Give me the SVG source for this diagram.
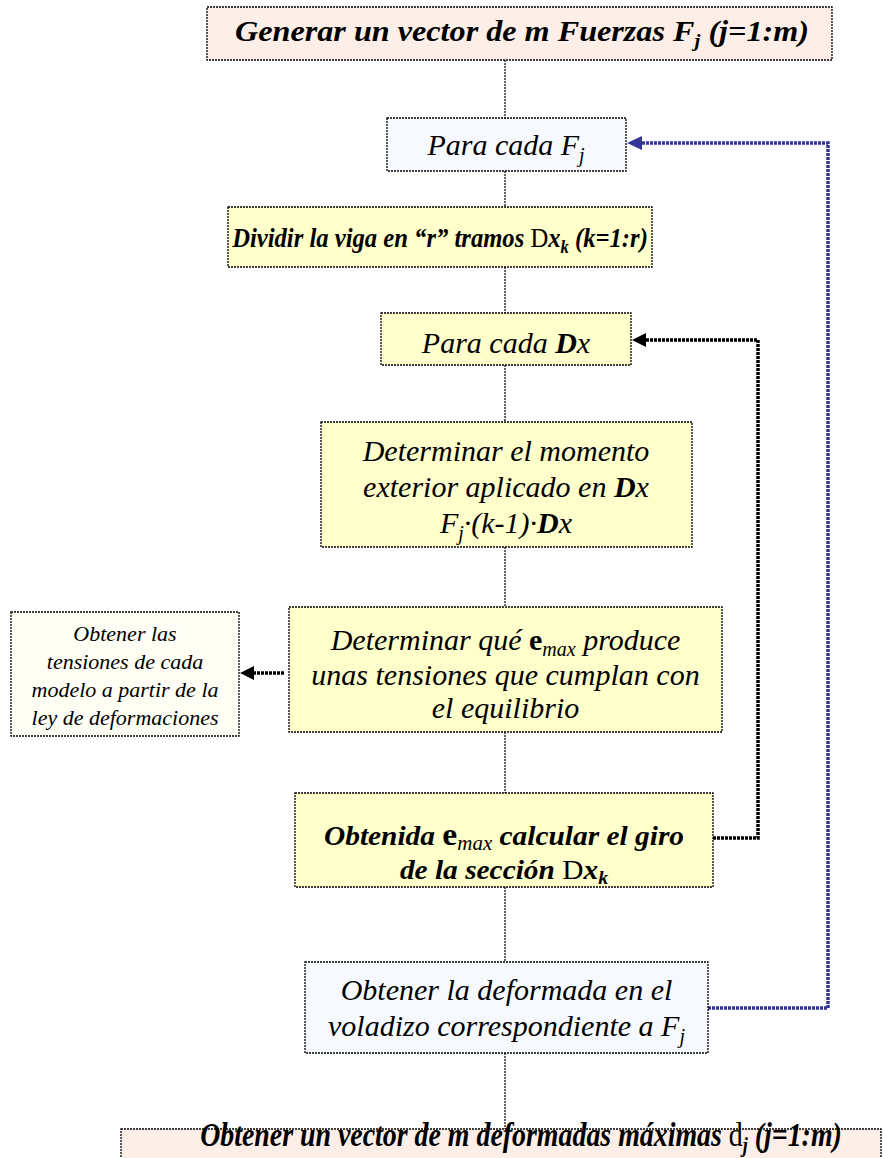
<svg xmlns="http://www.w3.org/2000/svg" width="883" height="1158" viewBox="0 0 883 1158">
<style>
.box{stroke:#000;stroke-width:1.3;stroke-dasharray:2 1}
.peach{fill:#FDEFE7}
.blue{fill:#F6FAFF}
.yel{fill:#FFFFCC}
.cream{fill:#FFFFF6}
text{font-family:"Liberation Serif","Times New Roman",serif;font-style:italic;fill:#000;text-anchor:middle}
.t30{font-size:30px}
.b{font-weight:bold}
.sm{font-size:22px}
.sym{font-style:normal;font-weight:bold}
.vl{stroke:#000;stroke-width:1.2;stroke-dasharray:2 1;fill:none}
.bl{stroke:#333399;stroke-width:3.5;stroke-dasharray:3 1;fill:none}
.bk{stroke:#000;stroke-width:3.5;stroke-dasharray:3 1;fill:none}
</style>

<g id="connectors">
<line class="vl" x1="505" y1="60" x2="505" y2="118"/>
<line class="vl" x1="505" y1="171" x2="505" y2="207"/>
<line class="vl" x1="505" y1="267" x2="505" y2="313"/>
<line class="vl" x1="505" y1="365" x2="505" y2="422"/>
<line class="vl" x1="505" y1="547" x2="505" y2="607"/>
<line class="vl" x1="505" y1="732" x2="505" y2="793"/>
<line class="vl" x1="505" y1="887" x2="505" y2="962"/>
<line class="vl" x1="505" y1="1053" x2="505" y2="1129"/>
<path class="bl" d="M708,1008 H828 V143 H640"/>
<path d="M627,143 L642,136 L642,150 z" fill="#333399"/>
<path class="bk" d="M713,838 H758 V340 H645"/>
<path d="M632,340 L646,333 L646,347 z" fill="#000"/>
<line class="bk" x1="284" y1="673" x2="252" y2="673"/>
<path d="M240,673 L254,666 L254,680 z" fill="#000"/>
</g>

<g id="n1">
<rect class="box peach" x="207" y="7" width="625" height="53"/>
<text class="b" transform="translate(522,41) scale(1.11,1)" x="0" y="0" style="font-size:29px">Generar un vector de m Fuerzas F<tspan dy="6" font-size="19">j</tspan><tspan dy="-6"> (j=1:m)</tspan></text>
</g>

<g id="n2">
<rect class="box blue" x="387" y="118" width="239" height="53"/>
<text class="t30" x="506" y="155">Para cada F<tspan dy="7" font-size="20">j</tspan></text>
</g>

<g id="n3">
<rect class="box yel" x="228" y="207" width="424" height="60"/>
<text class="b" transform="translate(440,247) scale(0.88,1)" x="0" y="0" style="font-size:28px">Dividir la viga en “r” tramos <tspan style="font-weight:normal;font-style:normal">D</tspan>x<tspan dy="6" font-size="19">k</tspan><tspan dy="-6"> (k=1:r)</tspan></text>
</g>

<g id="n4">
<rect class="box yel" x="381" y="313" width="250" height="52"/>
<text class="t30" x="506" y="353">Para cada <tspan class="b">D</tspan>x</text>
</g>

<g id="n5">
<rect class="box yel" x="321" y="422" width="371" height="125"/>
<text class="t30" x="506" y="461">Determinar el momento</text>
<text class="t30" x="506" y="497">exterior aplicado en <tspan class="b">D</tspan>x</text>
<text class="t30" x="506" y="533">F<tspan dy="7" font-size="20">j</tspan><tspan dy="-7">·(k-1)·</tspan><tspan class="b">D</tspan>x</text>
</g>

<g id="n6">
<rect class="box cream" x="11" y="612" width="228" height="124"/>
<text class="sm" x="125" y="641">Obtener las</text>
<text class="sm" x="125" y="669">tensiones de cada</text>
<text class="sm" x="125" y="697">modelo a partir de la</text>
<text class="sm" x="125" y="725">ley de deformaciones</text>
</g>

<g id="n7">
<rect class="box yel" x="289" y="607" width="433" height="125"/>
<text class="t30" x="505.5" y="650">Determinar qué <tspan class="sym">e</tspan><tspan dy="6" font-size="20">max</tspan><tspan dy="-6"> produce</tspan></text>
<text class="t30" x="505.5" y="685">unas tensiones que cumplan con</text>
<text class="t30" x="505.5" y="718">el equilibrio</text>
</g>

<g id="n8">
<rect class="box yel" x="295" y="793" width="418" height="94"/>
<text class="b" transform="translate(504,845) scale(1.05,1)" x="0" y="0" style="font-size:28px">Obtenida <tspan class="sym" font-size="32">e</tspan><tspan dy="5" font-size="20" font-weight="normal">max</tspan><tspan dy="-5"> calcular el giro</tspan></text>
<text class="b" transform="translate(504,879) scale(1.05,1)" x="0" y="0" style="font-size:28px">de la sección <tspan style="font-weight:normal;font-style:normal">D</tspan>x<tspan dy="5" font-size="19">k</tspan></text>
</g>

<g id="n9">
<rect class="box blue" x="305" y="962" width="403" height="91"/>
<text class="t30" x="506.5" y="1000">Obtener la deformada en el</text>
<text class="t30" x="506.5" y="1036">voladizo correspondiente a F<tspan dy="7" font-size="20">j</tspan></text>
</g>

<g id="n10">
<rect class="box peach" x="121" y="1129" width="760" height="40"/>
<text class="b" transform="translate(521,1146) scale(0.82,1)" x="0" y="0" style="font-size:34px">Obtener un vector de m deformadas máximas <tspan style="font-weight:normal;font-style:normal">d</tspan><tspan dy="6" font-size="22">j</tspan><tspan dy="-6"> (j=1:m)</tspan></text>
</g>
</svg>
